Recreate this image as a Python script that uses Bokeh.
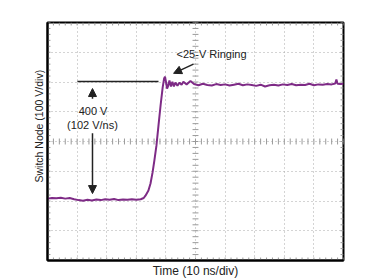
import numpy as np
from bokeh.plotting import figure
from bokeh.models import Range1d, FixedTicker, SingleIntervalTicker, Label, Arrow, NormalHead, Title
from bokeh.embed import file_html
from bokeh.resources import INLINE

# Trace data: time in ns (10 ns/div), voltage in V (100 V/div)
time_ns = [0, 1.5, 3, 4.5, 6, 7.5, 9, 10.5, 12, 13.5, 15, 16.5, 18, 19.5, 21, 22.5, 24, 25.5,
           27, 28.5, 30, 31.5, 32.5,
           33.1, 34.1, 34.8, 35.5, 36.1, 36.8, 37.5, 38.2, 38.9, 39.4, 39.7, 40.0, 40.4, 40.7,
           41.2, 41.7, 42.2, 42.7, 43.2, 43.9, 44.6, 45.3, 45.9,
           47, 48.3, 49.5, 51, 52.5, 54, 55.5, 57, 58.5, 60, 61.5, 63, 64.5, 66, 67.5, 69,
           70.5, 72, 73.5, 75, 76.5, 78, 79.5, 81, 82.5, 84, 85.5, 87, 88.5, 90, 91.5, 93,
           94.5, 96, 97.2, 97.6, 98, 99, 100]
volts = [8, 10, 9, 11, 8, 10, 6, 3, 1, 4, 2, 5, 3, 6, 4, 7, 3, 5,
         4, 6, 4, 6, 10,
         18, 35, 59, 96, 136, 186, 254, 321, 381, 412, 418, 402, 378, 385,
         405, 385, 401, 385, 398, 388, 398, 391, 401,
         392, 403, 393, 389, 394, 390, 388, 393, 390, 392, 388, 391, 394, 389, 392, 390,
         387, 391, 385, 389, 391, 388, 392, 390, 393, 389, 391, 390, 394, 389, 392, 391,
         393, 392, 395, 408, 394, 393, 394]

x_div = 10      # ns per division
y_div = 100     # V per division
x_lo, x_hi = 0, 100
y_lo, y_hi = -200, 600

FONT = "Liberation Sans"
TRACE = "#7e2b86"
INK = "#222222"
TICK = "#9a9a9a"

p = figure(width=381, height=280, x_range=Range1d(x_lo, x_hi), y_range=Range1d(y_lo, y_hi),
           output_backend="svg", toolbar_location=None,
           min_border_left=47, min_border_right=38, min_border_top=22, min_border_bottom=20)
p.background_fill_color = "white"
p.border_fill_color = "white"
p.outline_line_color = "black"
p.outline_line_width = 2

for ax in (p.xaxis[0], p.yaxis[0]):
    ax.ticker = FixedTicker(ticks=[])
    ax.major_label_standoff = 0
    ax.major_tick_out = 0
    ax.minor_tick_out = 0
    ax.axis_line_color = "black"
    ax.axis_line_width = 2
    ax.axis_label_text_font = FONT
    ax.axis_label_text_font_style = "normal"
    ax.axis_label_text_color = INK
p.xaxis.axis_label = "Time (10 ns/div)"
p.xaxis.axis_label_text_font_size = "12px"
p.xaxis.axis_label_standoff = 3

# y axis title, placed like the reference (above the frame centre)
p.add_layout(Title(text="Switch Node (100 V/div)", align="left", offset=78, standoff=5,
                   text_font=FONT, text_font_size="10.5px", text_font_style="normal",
                   text_color=INK), "left")

p.xgrid.ticker = SingleIntervalTicker(interval=x_div)
p.ygrid.ticker = SingleIntervalTicker(interval=y_div)
for g in (p.xgrid[0], p.ygrid[0]):
    g.grid_line_color = "#a8a8a8"
    g.grid_line_dash = "1 3"
    g.grid_line_width = 1

# graticule minor ticks (5 per division): centre lines and frame edges
gy = np.arange(y_lo, y_hi + 1, y_div / 5)
gx = np.arange(x_lo, x_hi + 1, x_div / 5)
xc = (x_lo + x_hi) / 2
yc = (y_lo + y_hi) / 2
hx = 1.0   # half tick length along x (ns)
hy = 10.0  # half tick length along y (V)
p.segment(x0=xc - hx, x1=xc + hx, y0=gy, y1=gy, line_color=TICK, line_width=1)
p.segment(x0=gx, x1=gx, y0=yc - hy, y1=yc + hy, line_color=TICK, line_width=1)
p.segment(x0=x_lo, x1=x_lo + hx, y0=gy, y1=gy, line_color=TICK, line_width=1)
p.segment(x0=x_hi - hx, x1=x_hi, y0=gy, y1=gy, line_color=TICK, line_width=1)
p.segment(x0=gx, x1=gx, y0=y_lo, y1=y_lo + hy, line_color=TICK, line_width=1)
p.segment(x0=gx, x1=gx, y0=y_hi - hy, y1=y_hi, line_color=TICK, line_width=1)

# trace
p.line(time_ns, volts, line_color=TRACE, line_width=2)

# 400 V reference line and arrows
p.segment(x0=[10.1], x1=[37.5], y0=[402], y1=[402], line_color=INK, line_width=1.5)
p.add_layout(Arrow(end=NormalHead(size=8, fill_color=INK, line_color=INK),
                   x_start=15.2, y_start=344, x_end=15.2, y_end=378,
                   line_color=INK, line_width=1.5))
p.add_layout(Arrow(end=NormalHead(size=8, fill_color=INK, line_color=INK),
                   x_start=15.2, y_start=228, x_end=15.2, y_end=25,
                   line_color=INK, line_width=1.5))
p.add_layout(Arrow(end=NormalHead(size=8, fill_color=INK, line_color=INK),
                   x_start=49.3, y_start=460, x_end=42.6, y_end=429,
                   line_color=INK, line_width=1.5))

for txt, x, y, al in [("400 V", 15.4, 301, "center"),
                      ("(102 V/ns)", 15.2, 254, "center"),
                      ("<25-V Ringing", 43.6, 493, "left")]:
    p.add_layout(Label(x=x, y=y, text=txt, text_align=al, text_baseline="middle",
                       text_font=FONT, text_font_size="11px", text_color=INK))

open("out.html", "w").write(file_html(p, INLINE))
